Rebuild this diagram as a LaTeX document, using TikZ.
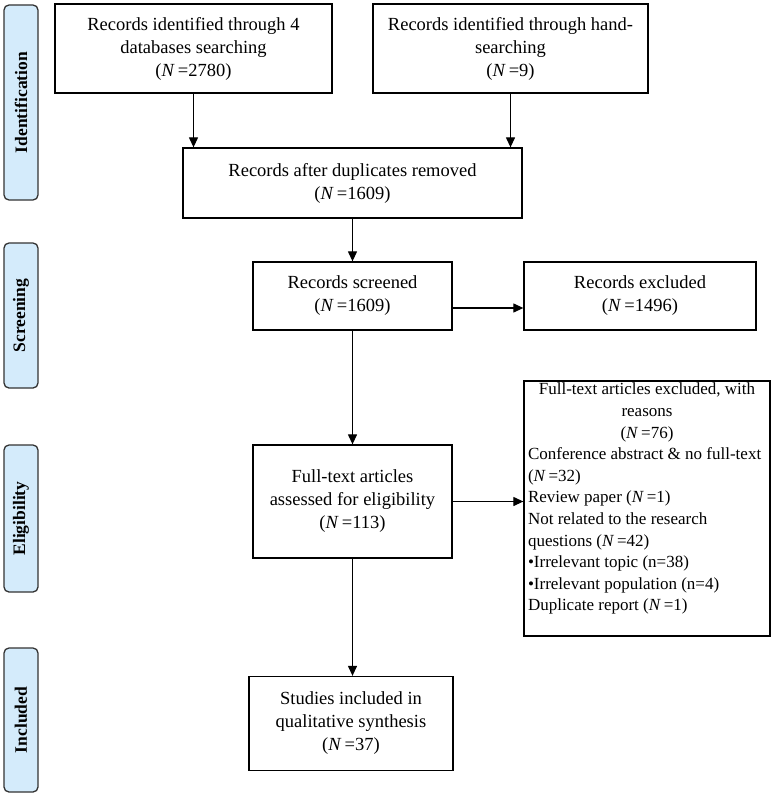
\documentclass[tikz,border=0pt]{standalone}
\usepackage{fontspec}
\setmainfont{Liberation Serif}
\usetikzlibrary{arrows.meta}
\definecolor{sidefill}{HTML}{D4EBFB}
\definecolor{sidedraw}{HTML}{333333}
\newcommand{\NN}{\textit{N}\,=}
\tikzset{
  box/.style={draw=black, line width=1.3pt, align=center, inner sep=2pt,
    font=\fontsize{18.5}{23}\selectfont},
  sidebox/.style={draw=sidedraw, fill=sidefill, line width=1.3pt, rounded corners=5pt,
    minimum width=34pt, inner sep=0pt},
  sidetext/.style={rotate=90, font=\fontsize{17.5}{20}\selectfont\bfseries},
  conn/.style={line width=1.2pt, -{Triangle[length=10pt,width=9pt]}}
}
\begin{document}
\begin{tikzpicture}[x=1pt,y=-1pt]
\useasboundingbox (0,0) rectangle (774,797);
% side labels
\node[sidebox, minimum height=195pt] (sid) at (21,102.5) {};
\node[sidetext] (sidt) at (sid.center) {Identification};
\node[sidebox, minimum height=145pt] (sscr) at (21,315.5) {};
\node[sidetext] (sscrt) at (sscr.center) {Screening};
\node[sidebox, minimum height=147pt] (selig) at (21,518.5) {};
\node[sidetext] (seligt) at (selig.center) {Eligibility};
\node[sidebox, minimum height=144pt] (sinc) at (21,720) {};
\node[sidetext] (sinct) at (sinc.center) {Included};
% main boxes
\node[box, minimum width=277pt, minimum height=89pt] (db) at (193.5,48.5)
  {Records identified through 4\\ databases searching\\ (\NN2780)};
\node[box, minimum width=275pt, minimum height=89pt] (hand) at (510.5,48.5)
  {Records identified through hand-\\ searching\\ (\NN9)};
\node[box, minimum width=339pt, minimum height=70pt] (dup) at (352.5,183)
  {Records after duplicates removed\\ (\NN1609)};
\node[box, minimum width=199pt, minimum height=68pt] (scr) at (352.5,296)
  {Records screened\\ (\NN1609)};
\node[box, minimum width=232pt, minimum height=68pt] (excl) at (640,296)
  {Records excluded\\ (\NN1496)};
\node[box, minimum width=199pt, minimum height=113pt] (ft) at (352.5,501.5)
  {Full-text articles\\ assessed for eligibility\\ (\NN113)};
\node[box, minimum width=246pt, minimum height=255pt, inner sep=0pt] (reasons) at (647,508.5)
  {\parbox[c][251pt][t]{238pt}{\fontsize{17}{21.6}\selectfont
   \centering Full-text articles excluded, with\\ reasons\\ (\NN76)\par
   \raggedright Conference abstract \& no full-text\\
   (\NN32)\\
   Review paper (\NN1)\\
   Not related to the research\\
   questions (\NN42)\\
   \textbullet Irrelevant topic (n=38)\\
   \textbullet Irrelevant population (n=4)\\
   Duplicate report (\NN1)\par}};
\node[box, minimum width=204pt, minimum height=94pt] (inc) at (351,723.5)
  {Studies included in\\ qualitative synthesis\\ (\NN37)};
% connectors
\draw[conn] (db.south) -- (db.south |- dup.north);
\draw[conn] (hand.south) -- (hand.south |- dup.north);
\draw[conn] (dup.south) -- (scr.north);
\draw[conn] ([yshift=-12pt]scr.east) -- ([yshift=-12pt]scr.east -| excl.west);
\draw[conn] (scr.south) -- (ft.north);
\draw[conn] (ft.east) -- (ft.east -| reasons.west);
\draw[conn] (ft.south) -- (ft.south |- inc.north);
\end{tikzpicture}
\end{document}
